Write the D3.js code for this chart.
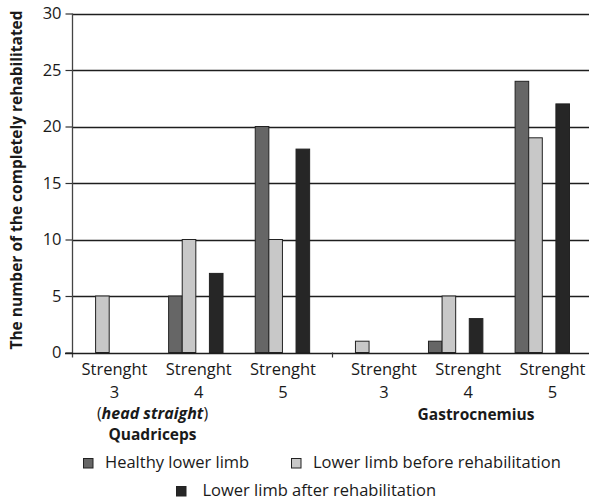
<!DOCTYPE html>
<html>
<head>
<meta charset="utf-8">
<script src="https://cdn.jsdelivr.net/npm/d3@7"></script>
<style>
  html, body { margin: 0; padding: 0; background: #fff; }
  svg { display: block; font-family: "Open Sans", "Noto Sans", sans-serif; }
</style>
</head>
<body>
<svg id="chart" width="589" height="500"></svg>
<script>
// Muscle-strength categories, grouped by muscle
const categories = ["Q3", "Q4", "Q5", "G3", "G4", "G5"];
const strengthLabels = ["3", "4", "5", "3", "4", "5"];
const muscleOfCategory = ["Quadriceps", "Quadriceps", "Quadriceps", "Gastrocnemius", "Gastrocnemius", "Gastrocnemius"];

// Series
const seriesNames = ["Healthy lower limb", "Lower limb before rehabilitation", "Lower limb after rehabilitation"];
const healthy = [0, 5, 20, 0, 1, 24];
const beforeRehab = [5, 10, 10, 1, 5, 19];
const afterRehab = [0, 7, 18, 0, 3, 22];

const yTicks = [0, 5, 10, 15, 20, 25, 30];

const colors = ["#666666", "#c8c8c8", "#262626"];

const svg = d3.select("#chart");

const y = d3.scaleLinear().domain([0, 30]).range([352.5, 13.5]);

// Clusters of bars per category
const x0 = d3.scaleBand()
  .domain(categories)
  .range([81.5, 569])
  .paddingInner(0.372)
  .paddingOuter(0);

// Within a cluster: healthy and "before" sit side by side, "after" follows a gap
const slotKeys = ["s0", "s1", "gap", "s2"];
const x1 = d3.scaleBand().domain(slotKeys).range([0, x0.bandwidth()]).padding(0);
const seriesSlot = ["s0", "s1", "s2"];

// Category label positions for each muscle group
const labelQ = d3.scalePoint().domain(["Q3", "Q4", "Q5"]).range([114.5, 283]);
const labelG = d3.scalePoint().domain(["G3", "G4", "G5"]).range([384, 552.5]);
const labelX = c => (labelQ.domain().includes(c) ? labelQ(c) : labelG(c));

// Gridlines
svg.append("g")
  .selectAll("line")
  .data(yTicks.filter(t => t > 0))
  .join("line")
  .attr("x1", 72.5).attr("x2", 589)
  .attr("y1", d => Math.round(y(d)) + 0.5).attr("y2", d => Math.round(y(d)) + 0.5)
  .attr("stroke", "#1e1e1e").attr("stroke-width", 1.6);

// Y axis
const yAxis = d3.axisLeft(y).tickValues(yTicks).tickSize(7).tickPadding(4).tickFormat(d3.format("d"));
const gy = svg.append("g").attr("transform", "translate(72.5,0)").call(yAxis);
gy.select(".domain").remove();
gy.selectAll(".tick line").attr("stroke", "#333").attr("stroke-width", 1.2);
gy.selectAll(".tick text").attr("font-size", 16.5).attr("fill", "#1a1a1a")
  .attr("font-family", "'Open Sans', sans-serif");
svg.append("line")
  .attr("x1", 72.5).attr("x2", 72.5).attr("y1", y(30)).attr("y2", y(0) + 5)
  .attr("stroke", "#444").attr("stroke-width", 1.3);

// Bars
const rows = categories.map((c, i) => ({ c, vals: [healthy[i], beforeRehab[i], afterRehab[i]] }));
const groups = svg.append("g").selectAll("g")
  .data(rows)
  .join("g")
  .attr("transform", d => `translate(${x0(d.c)},0)`);
groups.selectAll("rect")
  .data(d => d.vals.map((v, k) => ({ v, k })).filter(e => e.v > 0))
  .join("rect")
  .attr("x", e => x1(seriesSlot[e.k]) + 0.5)
  .attr("width", x1.bandwidth())
  .attr("y", e => y(e.v))
  .attr("height", e => y(0) - y(e.v))
  .attr("fill", e => colors[e.k])
  .attr("stroke", "#222")
  .attr("stroke-width", 1);

// X axis baseline
svg.append("line")
  .attr("x1", 65).attr("x2", 589).attr("y1", Math.round(y(0)) + 0.5).attr("y2", Math.round(y(0)) + 0.5)
  .attr("stroke", "#1e1e1e").attr("stroke-width", 1.6);

// Separator tick between the two muscles
svg.append("line")
  .attr("x1", 332.5).attr("x2", 332.5).attr("y1", y(0)).attr("y2", y(0) + 5)
  .attr("stroke", "#333").attr("stroke-width", 1.2);

// Category labels
const catLabels = svg.append("g").attr("font-size", 16.5).attr("fill", "#1a1a1a").attr("text-anchor", "middle");
categories.forEach((c, i) => {
  const t = catLabels.append("text").attr("x", labelX(c));
  t.append("tspan").attr("x", labelX(c)).attr("y", 375).text("Strenght");
  t.append("tspan").attr("x", labelX(c)).attr("y", 397.5).text(strengthLabels[i]);
});

// Muscle group labels
const qCenter = 152.5, gCenter = 476;
const hs = catLabels.append("text").attr("x", qCenter).attr("y", 418.5).attr("font-size", 16);
hs.append("tspan").text("(");
hs.append("tspan").attr("font-style", "italic").attr("font-weight", "bold").text("head straight");
hs.append("tspan").text(")");
catLabels.append("text").attr("x", qCenter).attr("y", 439.5).attr("font-size", 15.5)
  .attr("font-weight", "bold").text(muscleOfCategory[0]);
catLabels.append("text").attr("x", gCenter).attr("y", 419.5).attr("font-size", 15.5)
  .attr("font-weight", "bold").text(muscleOfCategory[3]);

// Y axis title
svg.append("text")
  .attr("transform", "translate(22,180) rotate(-90)")
  .attr("text-anchor", "middle")
  .attr("font-size", 15.5)
  .attr("font-weight", "bold")
  .attr("fill", "#1a1a1a")
  .text("The number of the completely rehabilitated");

// Legend
const legendPos = [
  { x: 83.5, y: 458.5 },
  { x: 291.5, y: 458.5 },
  { x: 176.5, y: 486.5 }
];
const legend = svg.append("g").selectAll("g")
  .data(seriesNames)
  .join("g")
  .attr("transform", (d, i) => `translate(${legendPos[i].x},${legendPos[i].y})`);
legend.append("rect")
  .attr("width", 9.5).attr("height", 9.5)
  .attr("fill", (d, i) => colors[i])
  .attr("stroke", "#222").attr("stroke-width", 1);
legend.append("text")
  .attr("x", (d, i) => (i === 2 ? 26 : 21.5))
  .attr("y", 9.5)
  .attr("font-size", 16.5)
  .attr("fill", "#1a1a1a")
  .text(d => d);
</script>
</body>
</html>
